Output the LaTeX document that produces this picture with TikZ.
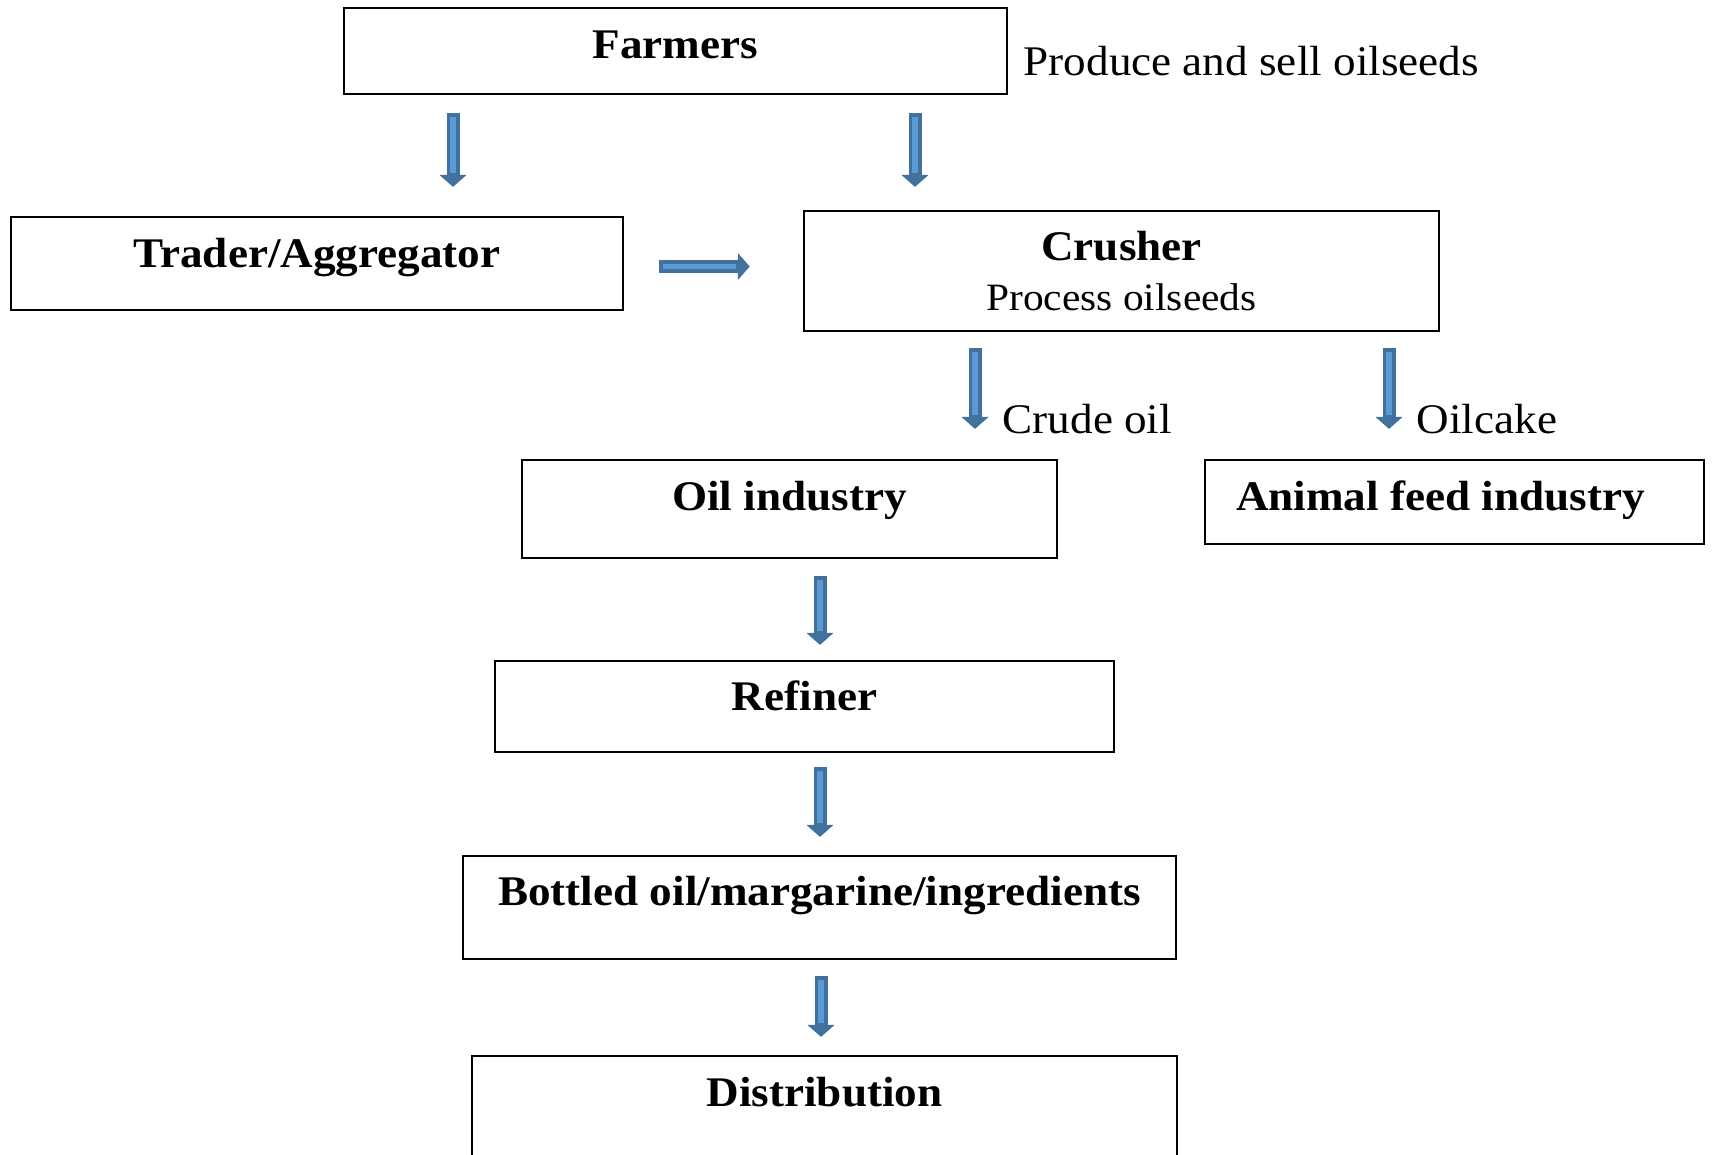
\documentclass[tikz,border=0pt]{standalone}
\usepackage{fontspec}
\setmainfont[FakeStretch=1.07]{Liberation Serif}
\usepackage{tikz}
\usetikzlibrary{calc}
\usetikzlibrary{arrows.meta}
\usetikzlibrary{positioning}
\usepackage{xcolor}
\definecolor{flowedge}{HTML}{41719C}
\definecolor{flowfill}{HTML}{5B9BD5}

\tikzset{
  box/.style={draw, line width=0.6pt, inner sep=0pt,
    font=\fontsize{12}{14}\selectfont\bfseries, text height=8pt, text depth=6pt},
  note/.style={font=\fontsize{12}{14}\selectfont, inner sep=0pt, anchor=west},
  flow/.style={line width=3.7pt, draw=flowedge, -{Triangle[width=7.5pt,length=3.4pt]},
    postaction={draw=flowfill, line width=1.6pt, -, shorten >=4pt, shorten <=1pt}},
}

\begin{document}
\begin{tikzpicture}[x=0.01cm,y=-0.01cm]
   \useasboundingbox (0,0) rectangle (1712,1155);

   \node[box, minimum width=6.63cm, minimum height=0.86cm, text depth=4pt] (farm) at (675.5,51) {Farmers};
   \node[box, minimum width=6.12cm, minimum height=0.93cm] (trader) at (317,263.5) {Trader/Aggregator};
   \node[box, align=center, minimum width=6.35cm, minimum height=1.2cm, text height=, text depth=] (crush) at (1121.5,271) {Crusher\\{\mdseries\fontsize{11}{14}\selectfont Process oilseeds}};
   \node[box, minimum width=5.35cm, minimum height=0.98cm, text depth=7pt] (oil) at (789.5,509) {Oil industry};
   \node[box, minimum width=4.99cm, minimum height=0.84cm, text depth=3pt] (feed) at (1454.5,502) {Animal feed industry\hspace*{0.28cm}};
   \node[box, minimum width=6.19cm, minimum height=0.91cm] (refin) at (804.5,706.5) {Refiner};
   \node[box, minimum width=7.13cm, minimum height=1.03cm, text depth=9pt] (bottle) at (819.5,907.5) {Bottled oil/margarine/ingredients};
   \node[box, minimum width=7.05cm, minimum height=1.3cm, text depth=16pt] (dist) at (824.5,1121) {Distribution};

   \node[note] (sell) at (1023,61) {Produce and sell oilseeds};
   \node[note] (crude) at (1002,419) {Crude oil};
   \node[note] (cake) at (1416,419) {Oilcake};

   \draw[flow] ($(farm.south -| 453,0)+(0,18)$) -- ($(trader.north -| 453,0)-(0,29)$);
   \draw[flow] ($(farm.south -| 915,0)+(0,18)$) -- ($(crush.north -| 915,0)-(0,23)$);
   \draw[flow] ($(trader.east)+(35,3)$) -- ($(trader.east -| crush.west)+(-53,3)$);
   \draw[flow] ($(crush.south -| 975,0)+(0,16)$) -- ($(oil.north -| 975,0)-(0,30)$);
   \draw[flow] ($(crush.south -| 1389,0)+(0,16)$) -- ($(feed.north -| 1389,0)-(0,30)$);
   \draw[flow] ($(oil.south -| 820,0)+(0,17)$) -- ($(refin.north -| 820,0)-(0,15)$);
   \draw[flow] ($(refin.south -| 820,0)+(0,14)$) -- ($(bottle.north -| 820,0)-(0,18)$);
   \draw[flow] ($(bottle.south -| 821,0)+(0,16)$) -- ($(dist.north -| 821,0)-(0,18)$);

\end{tikzpicture}
\end{document}
